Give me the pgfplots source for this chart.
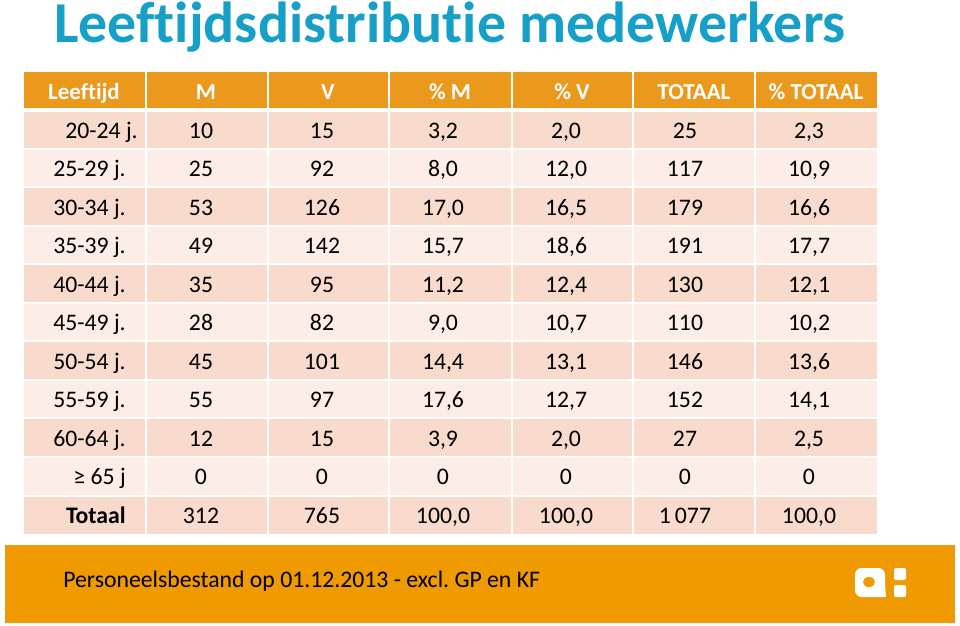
\documentclass[border=0pt]{standalone}
\usepackage{pgfplots}
\usepackage{pgfplotstable}
\pgfplotsset{compat=1.18}
\usepackage{fontspec}
\setmainfont{Carlito}[Ligatures=NoCommon]
\frenchspacing
\definecolor{hdr}{RGB}{235,153,28}
\definecolor{foot}{RGB}{238,154,0}
\definecolor{darkrow}{RGB}{248,219,204}
\definecolor{lightrow}{RGB}{252,237,231}
\definecolor{ttl}{RGB}{22,160,199}
\newcommand\tf{\fontsize{17.8}{20}\selectfont}
\newcommand\hf{\fontsize{17.2}{20}\selectfont\bfseries}

\pgfplotstableread[col sep=semicolon]{
xa;yb;age;M;V;pM;pV;T;pT
138;138.0;20-24 j.;10;15;3,2;2,0;25;2,3
126;176.5;25-29 j.;25;92;8,0;12,0;117;10,9
126;215.1;30-34 j.;53;126;17,0;16,5;179;16,6
126;253.6;35-39 j.;49;142;15,7;18,6;191;17,7
126;292.2;40-44 j.;35;95;11,2;12,4;130;12,1
126;330.7;45-49 j.;28;82;9,0;10,7;110;10,2
126;369.3;50-54 j.;45;101;14,4;13,1;146;13,6
126;407.8;55-59 j.;55;97;17,6;12,7;152;14,1
126;446.4;60-64 j.;12;15;3,9;2,0;27;2,5
126;484.9;≥ 65 j;0;0;0;0;0;0
126;523.5;\textbf{Totaal};312;765;100,0;100,0;1\,077;100,0
}\agedata

\pgfplotstableread[col sep=semicolon]{
x;y;label
84;99.3;Leeftijd
206;99.3;M
328;99.3;V
450;99.3;\% M
572;99.3;\% V
694;99.3;TOTAAL
816;99.3;\% TOTAAL
}\hdrdata

\begin{document}
\begin{tikzpicture}
\begin{axis}[
  width=720pt, height=468.75pt, scale only axis,
  xmin=0, xmax=960, ymin=0, ymax=625, y dir=reverse,
  axis lines=none, clip=false,
  every axis plot/.append style={line join=miter},
]
% background
\addplot[fill=white, draw=none] coordinates {(0,0) (960,0) (960,625) (0,625)};
% header band
\addplot[fill=hdr, draw=none] coordinates {(24,72) (877,72) (877,110) (24,110)};
% body bands
\addplot[fill=lightrow, draw=none] coordinates {(24,110) (877,110) (877,534) (24,534)};
\addplot[fill=darkrow, draw=none] coordinates {(24,110) (877,110) (877,148.55) (24,148.55)};
\addplot[fill=darkrow, draw=none] coordinates {(24,187.1) (877,187.1) (877,225.65) (24,225.65)};
\addplot[fill=darkrow, draw=none] coordinates {(24,264.2) (877,264.2) (877,302.75) (24,302.75)};
\addplot[fill=darkrow, draw=none] coordinates {(24,341.3) (877,341.3) (877,379.85) (24,379.85)};
\addplot[fill=darkrow, draw=none] coordinates {(24,418.4) (877,418.4) (877,456.95) (24,456.95)};
\addplot[fill=darkrow, draw=none] coordinates {(24,495.5) (877,495.5) (877,534) (24,534)};
% white grid lines
\addplot[white, line width=2.4pt] coordinates {(24,110) (877,110)};
\foreach \yy in {148.55,187.1,225.65,264.2,302.75,341.3,379.85,418.4,456.95,495.5} {
  \edef\tmp{\noexpand\addplot[white, line width=1.5pt] coordinates {(24,\yy) (877,\yy)};}\tmp
}
\foreach \xx in {146,268,389,512,633,755} {
  \edef\tmp{\noexpand\addplot[white, line width=1.5pt] coordinates {(\xx,72) (\xx,534)};}\tmp
}
% footer band
\addplot[fill=foot, draw=none] coordinates {(5,545) (955,545) (955,623) (5,623)};

% header labels
\addplot[draw=none, mark=none, nodes near coords, point meta=explicit symbolic,
  every node near coord/.append style={anchor=base, font=\hf, text=white, inner sep=0pt}]
  table[x=x, y=y, meta=label] {\hdrdata};
% body text
\addplot[draw=none, mark=none, nodes near coords, point meta=explicit symbolic,
  every node near coord/.append style={anchor=base east, font=\tf, text=black, inner sep=0pt}]
  table[x=xa, y=yb, meta=age] {\agedata};
\addplot[draw=none, mark=none, nodes near coords, point meta=explicit symbolic,
  every node near coord/.append style={anchor=base, font=\tf, text=black, inner sep=0pt}]
  table[x expr=201, y=yb, meta=M] {\agedata};
\addplot[draw=none, mark=none, nodes near coords, point meta=explicit symbolic,
  every node near coord/.append style={anchor=base, font=\tf, text=black, inner sep=0pt}]
  table[x expr=322, y=yb, meta=V] {\agedata};
\addplot[draw=none, mark=none, nodes near coords, point meta=explicit symbolic,
  every node near coord/.append style={anchor=base, font=\tf, text=black, inner sep=0pt}]
  table[x expr=443, y=yb, meta=pM] {\agedata};
\addplot[draw=none, mark=none, nodes near coords, point meta=explicit symbolic,
  every node near coord/.append style={anchor=base, font=\tf, text=black, inner sep=0pt}]
  table[x expr=566, y=yb, meta=pV] {\agedata};
\addplot[draw=none, mark=none, nodes near coords, point meta=explicit symbolic,
  every node near coord/.append style={anchor=base, font=\tf, text=black, inner sep=0pt}]
  table[x expr=685, y=yb, meta=T] {\agedata};
\addplot[draw=none, mark=none, nodes near coords, point meta=explicit symbolic,
  every node near coord/.append style={anchor=base, font=\tf, text=black, inner sep=0pt}]
  table[x expr=809, y=yb, meta=pT] {\agedata};

% title
\node[anchor=base west, inner sep=0pt, text=ttl, font=\fontsize{43.4}{50}\selectfont\bfseries]
  at (axis cs:54,42) {Leeftijdsdistributie medewerkers};
% footer text
\node[anchor=base west, inner sep=0pt, text=black, font=\fontsize{17.8}{20}\selectfont]
  at (axis cs:63,587) {Personeelsbestand op 01.12.2013 - excl. GP en KF};
% logo
\fill[white, rounded corners=5pt] (axis cs:855,585) -- (axis cs:855,568) -- (axis cs:885,568) -- (axis cs:885,586) [sharp corners] -- (axis cs:886,597) [rounded corners=5pt] -- (axis cs:855,597) -- cycle;
\fill[foot] (axis cs:869,582) ellipse [x radius=4.5pt, y radius=3.8pt];
\fill[white, rounded corners=1.5pt] (axis cs:894,568) rectangle (axis cs:906,580);
\fill[white, rounded corners=1.5pt] (axis cs:894,585) rectangle (axis cs:906,597);
\end{axis}
\end{tikzpicture}
\end{document}
